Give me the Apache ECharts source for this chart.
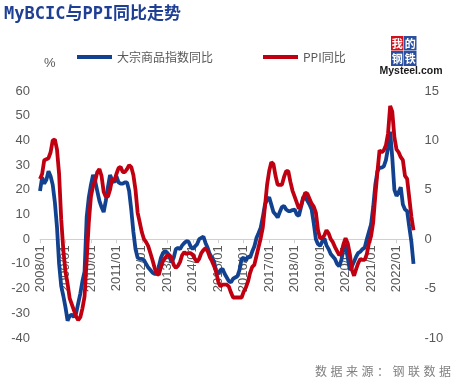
<!DOCTYPE html>
<html><head><meta charset="utf-8">
<script src="https://cdn.jsdelivr.net/npm/echarts@6/dist/echarts.min.js"></script>
<style>html,body{margin:0;padding:0;background:#fff}#c{width:461px;height:385px}</style>
</head><body><div id="c"></div>
<script>
// ---- data ----
const startYear = 2008;
const monthCount = 177; // 2008/01 .. 2022/09
const seriesNames = ['大宗商品指数同比', 'PPI同比'];
// Mysteel commodity index YoY (%), left axis
const commodityYoY = [
  19.5, 25, 22.5, 24, 27.5, 25.5, 22, 15, 5, -10, -19, -23,
  -27.5, -33, -31, -30.5, -31.5, -30, -26, -22, -17, -13, 9, 17,
  22, 26, 23.5, 19.5, 15.5, 13, 11, 15.5, 21, 26, 24, 23,
  25.5, 23, 22.5, 22.5, 23, 23, 19.5, 12, 3, -4, -7.5, -8,
  -8, -8.5, -10, -11.5, -12.5, -13.5, -14, -14, -11, -7.5, -5.5, -4.7,
  -5.5, -7, -9.4, -7.5, -4, -3.5, -4, -2.5, -1.5, -0.8, -1, -3,
  -4, -3, -2, 0, 0.5, 1, -1.5, -3.5, -6, -7.5, -9, -13,
  -14, -12.5, -12, -14, -15.5, -17, -17.5, -16, -15.5, -15, -12.5, -8,
  -7.5, -8.8, -7, -7.5, -5, -3, 0.5, 2.5, 4.7, 9, 14, 16,
  17, 14, 11, 10, 8.8, 11, 13, 13.5, 12, 11.4, 11.4, 11.8,
  12, 10, 9.5, 13, 17, 17, 15.5, 14, 12, 6.5, 0, -2,
  -2.7, -1, 0.4, -2.5, -4, -6, -7, -8, -10, -11, -8.5, -4,
  -2, -7.5, -12.5, -11, -9, -7, -5.5, -5, -4, -3.4, 0, 3,
  6, 13, 22, 27.5, 29, 29, 29.5, 32, 37, 43.5, 33, 20,
  17.5, 19, 21, 14, 12, 11.4, 5, -1, -10
];
// PPI YoY (%), right axis
const ppiYoY = [
  6.1, 6.6, 8.0, 8.1, 8.2, 8.8, 10.0, 10.1, 9.1, 6.6, 2.0, -1.1,
  -3.3, -4.5, -6.0, -6.6, -7.2, -7.8, -8.2, -7.9, -7.0, -5.8, -2.1, 1.7,
  4.3, 5.4, 5.9, 6.8, 7.1, 6.4, 4.8, 4.3, 4.3, 5.0, 6.1, 5.9,
  6.6, 7.2, 7.3, 6.8, 6.8, 7.1, 7.5, 7.3, 6.5, 5.0, 2.7, 1.7,
  0.7, 0.0, -0.3, -0.7, -1.4, -2.1, -2.9, -3.5, -3.6, -2.8, -2.2, -1.9,
  -1.6, -1.6, -1.9, -2.6, -2.9, -2.7, -2.3, -1.6, -1.3, -1.5, -1.4, -1.4,
  -1.6, -2.0, -2.3, -2.0, -1.4, -1.1, -0.9, -1.2, -1.8, -2.2, -2.7, -3.3,
  -4.3, -4.8, -4.6, -4.6, -4.6, -4.8, -5.4, -5.9, -5.9, -5.9, -5.9, -5.9,
  -5.3, -4.9, -4.3, -3.4, -2.8, -2.6, -1.7, -0.8, 0.1, 1.2, 3.3, 5.5,
  6.9, 7.8, 7.6, 6.4, 5.5, 5.5, 5.5, 6.3, 6.9, 6.9, 5.8, 4.9,
  4.3, 3.7, 3.1, 3.4, 4.1, 4.7, 4.6, 4.1, 3.6, 3.3, 2.7, 0.9,
  0.1, 0.1, 0.4, 0.9, 0.6, 0.0, -0.3, -0.8, -1.2, -1.6, -1.4, -0.5,
  0.1, -0.4, -1.5, -3.1, -3.7, -3.0, -2.4, -2.0, -2.1, -2.1, -1.5, -0.4,
  0.3, 1.7, 4.4, 6.8, 9.0, 8.8, 9.0, 9.5, 10.7, 13.5, 12.9, 10.3,
  9.1, 8.8, 8.3, 8.0, 6.4, 6.1, 4.2, 2.3, 0.9
];
const leftAxisRange = [-40, 60, 10];
const rightAxisRange = [-10, 15, 5];
const titleText = 'MyBCIC与PPI同比走势';
const sourceText = '数据来源：钢联数据';
const unitText = '%';

// ---- categories ----
const categories = [];
for (let i = 0; i < monthCount; i++) {
  const y = startYear + Math.floor(i / 12);
  const m = (i % 12) + 1;
  categories.push(y + '/' + (m < 10 ? '0' + m : '' + m));
}

const BLUE = '#12428f';
const RED = '#c00010';
const LABEL = '#595959';
const FONT = "'Liberation Sans', Arial, sans-serif";
const CJK = "'Noto Sans CJK SC', sans-serif";

const GRID_TOP = 91, GRID_BOTTOM_Y = 338;
// position of value 0 inside the plot, used to lift the category axis onto the zero line
const zeroOffset = (GRID_BOTTOM_Y - GRID_TOP) * (0 - leftAxisRange[0]) / (leftAxisRange[1] - leftAxisRange[0]);

const graphics = [
  { type: 'text', left: 4, top: 6, style: { text: titleText, fill: '#1f3f94', font: "bold 17px 'DejaVu Sans Mono', 'Noto Sans CJK SC', monospace" } },
  { type: 'text', left: 44, top: 57, style: { text: unitText, fill: LABEL, font: '13px ' + FONT } },
  // logo
  { type: 'rect', shape: { x: 391, y: 36, width: 12.5, height: 14.5 }, style: { fill: '#d2101c' } },
  { type: 'rect', shape: { x: 404, y: 36, width: 12.5, height: 14.5 }, style: { fill: '#2b4f9f' } },
  { type: 'rect', shape: { x: 391, y: 51, width: 12.5, height: 15 }, style: { fill: '#2b4f9f' } },
  { type: 'rect', shape: { x: 404, y: 51, width: 12.5, height: 15 }, style: { fill: '#2b4f9f' } },
  { type: 'text', x: 397.2, y: 43.5, style: { text: '我', fill: '#fff', font: 'bold 11px ' + CJK, align: 'center', verticalAlign: 'middle' } },
  { type: 'text', x: 410.2, y: 43.5, style: { text: '的', fill: '#fff', font: 'bold 11px ' + CJK, align: 'center', verticalAlign: 'middle' } },
  { type: 'text', x: 397.2, y: 58.5, style: { text: '钢', fill: '#fff', font: 'bold 11px ' + CJK, align: 'center', verticalAlign: 'middle' } },
  { type: 'text', x: 410.2, y: 58.5, style: { text: '铁', fill: '#fff', font: 'bold 11px ' + CJK, align: 'center', verticalAlign: 'middle' } },
  { type: 'text', x: 411, y: 71.5, style: { text: 'Mysteel.com', fill: '#1a1a1a', font: 'bold 10.5px ' + FONT, align: 'center', verticalAlign: 'middle' } }
];
// footer, glyph by glyph to keep the wide spacing
Array.from(sourceText).forEach((ch, i) => {
  graphics.push({ type: 'text', x: 321 + i * 15.5, y: 371, style: { text: ch, fill: '#808080', font: '12px ' + CJK, align: 'center', verticalAlign: 'middle' } });
});

const chart = echarts.init(document.getElementById('c'), null, { renderer: 'canvas' });
chart.setOption({
  animation: false,
  backgroundColor: '#fff',
  grid: { left: 40, right: 47.5, top: GRID_TOP, bottom: 385 - GRID_BOTTOM_Y, containLabel: false, outerBoundsMode: 'none' },
  legend: {
    left: 77, top: 51, padding: 0, itemWidth: 35, itemHeight: 4, itemGap: 50,
    data: [
      { name: seriesNames[0], icon: 'rect' },
      { name: seriesNames[1], icon: 'rect' }
    ],
    textStyle: { fontSize: 12, color: LABEL, fontFamily: CJK }
  },
  xAxis: {
    type: 'category', data: categories, boundaryGap: false,
    position: 'bottom', offset: -zeroOffset,
    axisLine: { onZero: false, lineStyle: { color: '#d0d0d0', width: 1 } },
    axisTick: { show: true, interval: 11, length: 4, inside: false, lineStyle: { color: '#d0d0d0' } },
    axisLabel: { interval: 11, rotate: 90, margin: 6, color: LABEL, fontSize: 13, fontFamily: FONT },
    splitLine: { show: false }
  },
  yAxis: [
    { type: 'value', min: leftAxisRange[0], max: leftAxisRange[1], interval: leftAxisRange[2],
      axisLine: { show: false }, axisTick: { show: false }, splitLine: { show: false },
      axisLabel: { color: LABEL, fontSize: 13, fontFamily: FONT, margin: 10 } },
    { type: 'value', min: rightAxisRange[0], max: rightAxisRange[1], interval: rightAxisRange[2],
      axisLine: { show: false }, axisTick: { show: false }, splitLine: { show: false },
      axisLabel: { color: LABEL, fontSize: 13, fontFamily: FONT, margin: 11 } }
  ],
  series: [
    { name: seriesNames[0], type: 'line', yAxisIndex: 0, data: commodityYoY, symbol: 'none',
      lineStyle: { color: BLUE, width: 3.8 }, itemStyle: { color: BLUE } },
    { name: seriesNames[1], type: 'line', yAxisIndex: 1, data: ppiYoY, symbol: 'none',
      lineStyle: { color: RED, width: 3.8 }, itemStyle: { color: RED } }
  ],
  graphic: graphics
});
</script>
</body></html>
